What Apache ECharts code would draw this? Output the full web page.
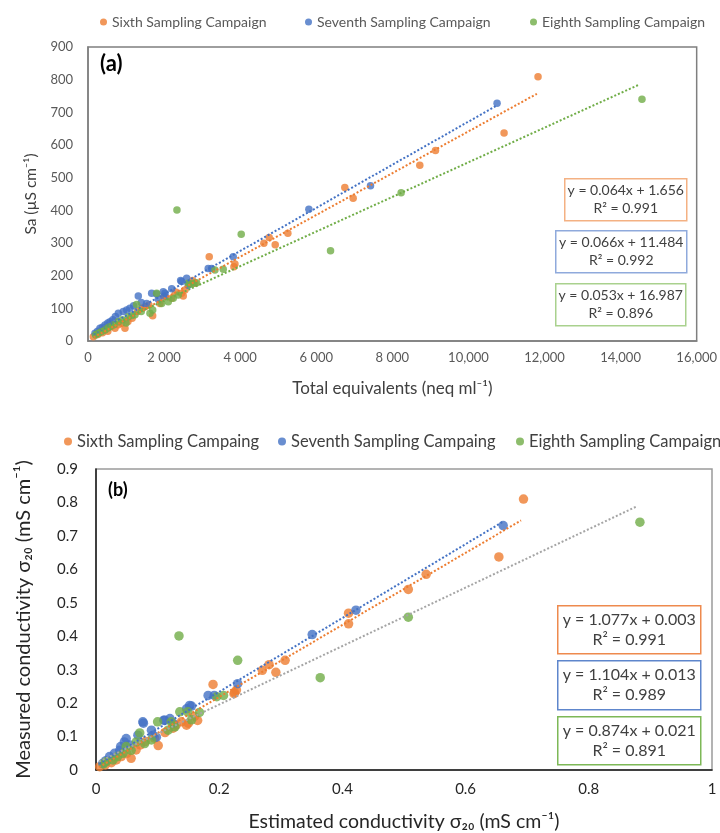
<!DOCTYPE html>
<html>
<head>
<meta charset="utf-8">
<script src="https://cdn.jsdelivr.net/npm/echarts@6/dist/echarts.min.js"></script>
<style>
  html, body { margin: 0; padding: 0; background: #fff; }
  #main { width: 720px; height: 833px; }
</style>
</head>
<body>
<div id="main"></div>
<script>
// ---- chart (a): Sa vs total equivalents ----
const namesA = ['Sixth Sampling Campaign', 'Seventh Sampling Campaign', 'Eighth Sampling Campaign'];
const sixthA = [
  [140, 13], [260, 20], [380, 25], [450, 35], [520, 30], [620, 45], [709, 39], [800, 50], [884, 54],
  [972, 39], [1050, 60], [1160, 70], [1300, 90], [1420, 100], [1500, 105], [1600, 110], [1700, 77],
  [1891, 115], [2000, 135], [2198, 131], [2300, 150], [2461, 146], [2504, 138], [2548, 156],
  [2750, 185], [2811, 177], [3187, 258], [3835, 227], [3862, 236], [4623, 299], [4763, 317],
  [4921, 295], [5254, 330], [6751, 470], [6970, 437], [8722, 538], [9134, 583], [10937, 637], [11830, 809]
];
const seventhA = [
  [184, 24], [250, 30], [315, 39], [380, 42], [447, 49], [520, 55], [578, 59], [650, 65], [720, 75],
  [797, 85], [928, 90], [1016, 95], [1100, 100], [1200, 108], [1322, 138], [1400, 118], [1541, 115],
  [1673, 146], [1805, 144], [1850, 128], [1978, 151], [2023, 146], [2023, 138], [2200, 160],
  [2435, 185], [2461, 182], [2593, 192], [2636, 171], [3160, 222], [3249, 222], [3817, 258],
  [5806, 403], [7426, 475], [10753, 728]
];
const eighthA = [
  [200, 18], [272, 24], [350, 28], [447, 34], [520, 40], [578, 44], [680, 50], [797, 59], [900, 65],
  [1000, 55], [1059, 74], [1150, 78], [1235, 80], [1278, 112], [1400, 90], [1629, 85], [1700, 95],
  [1805, 146], [1935, 115], [2110, 120], [2241, 131], [2338, 401], [2373, 141], [2636, 177],
  [2680, 174], [2767, 177], [2855, 178], [3336, 217], [3555, 220], [4028, 327], [6375, 276],
  [8231, 454], [14562, 740]
];
const slopeA = [0.064, 0.066, 0.053];
const interceptA = [1.656, 11.484, 16.987];
const trendRangeA = [[150, 11800], [150, 10750], [150, 14500]];
const r2A = ['0.991', '0.992', '0.896'];
const xTickLabelsA = ['0', '2 000', '4 000', '6 000', '8 000', '10,000', '12,000', '14,000', '16,000'];

// ---- chart (b): measured vs estimated conductivity ----
const namesB = ['Sixth Sampling Campaing', 'Seventh Sampling Campaing', 'Eighth Sampling Campaign'];
const sixthB = [
  [0.006, 0.010], [0.015, 0.015], [0.025, 0.022], [0.033, 0.030], [0.041, 0.040], [0.050, 0.050],
  [0.057, 0.035], [0.065, 0.060], [0.072, 0.075], [0.080, 0.085], [0.095, 0.095], [0.101, 0.073],
  [0.112, 0.112], [0.125, 0.125], [0.130, 0.134], [0.1385, 0.144], [0.147, 0.134], [0.150, 0.140],
  [0.160, 0.160], [0.165, 0.148], [0.190, 0.256], [0.224, 0.228], [0.225, 0.231], [0.228, 0.239],
  [0.270, 0.298], [0.281, 0.315], [0.292, 0.292], [0.307, 0.328], [0.410, 0.469], [0.410, 0.437],
  [0.507, 0.540], [0.536, 0.585], [0.654, 0.637], [0.694, 0.810]
];
const seventhB = [
  [0.011, 0.020], [0.016, 0.028], [0.022, 0.040], [0.030, 0.050], [0.0385, 0.059], [0.040, 0.070],
  [0.046, 0.084], [0.049, 0.094], [0.055, 0.075], [0.068, 0.104], [0.076, 0.144], [0.077, 0.140],
  [0.090, 0.119], [0.0925, 0.104], [0.098, 0.098], [0.110, 0.149], [0.1115, 0.149], [0.120, 0.154],
  [0.125, 0.140], [0.147, 0.183], [0.152, 0.193], [0.155, 0.191], [0.182, 0.223], [0.192, 0.223],
  [0.230, 0.258], [0.351, 0.405], [0.422, 0.478], [0.661, 0.731]
];
const eighthB = [
  [0.012, 0.018], [0.0167, 0.025], [0.0276, 0.030], [0.035, 0.040], [0.044, 0.050], [0.049, 0.070],
  [0.057, 0.059], [0.0655, 0.084], [0.071, 0.111], [0.079, 0.079], [0.090, 0.090], [0.100, 0.144],
  [0.117, 0.119], [0.122, 0.144], [0.128, 0.129], [0.1347, 0.401], [0.136, 0.174], [0.149, 0.174],
  [0.155, 0.150], [0.168, 0.172], [0.196, 0.219], [0.207, 0.223], [0.230, 0.328], [0.364, 0.276],
  [0.507, 0.457], [0.883, 0.741]
];
const slopeB = [1.077, 1.104, 0.874];
const interceptB = [0.003, 0.013, 0.021];
const trendRangeB = [[0.005, 0.69], [0.005, 0.661], [0.005, 0.879]];
const r2B = ['0.991', '0.989', '0.891'];
const xTickLabelsB = ['0', '0.2', '0.4', '0.6', '0.8', '1'];

const colors = ['#ED7D31', '#4472C4', '#70AD47'];
const trendColorsB = ['#ED7D31', '#4472C4', '#A5A5A5'];
const font = 'Lato, "Noto Sans", sans-serif';

function trendLine(slope, intercept, range) {
  return range.map((x) => [x, slope * x + intercept]);
}

function fmt(n) {
  return n.toFixed(3);
}

const chart = echarts.init(document.getElementById('main'));

const series = [];
[sixthA, seventhA, eighthA].forEach((d, i) => {
  series.push({
    name: namesA[i], type: 'scatter', xAxisIndex: 0, yAxisIndex: 0,
    symbolSize: 7.5, itemStyle: { color: colors[i] }, data: d, z: 3,
  });
});
[0, 1, 2].forEach((i) => {
  series.push({
    name: 'trendA' + i, type: 'line', xAxisIndex: 0, yAxisIndex: 0, symbol: 'none',
    lineStyle: { color: colors[i], width: 2, type: [2, 2] }, z: 4,
    data: trendLine(slopeA[i], interceptA[i], trendRangeA[i]),
  });
});
[sixthB, seventhB, eighthB].forEach((d, i) => {
  series.push({
    name: namesB[i], type: 'scatter', xAxisIndex: 1, yAxisIndex: 1,
    symbolSize: 9.5, itemStyle: { color: colors[i] }, data: d, z: 3,
  });
});
[0, 1, 2].forEach((i) => {
  series.push({
    name: 'trendB' + i, type: 'line', xAxisIndex: 1, yAxisIndex: 1, symbol: 'none',
    lineStyle: { color: trendColorsB[i], width: 2, type: [2, 2] }, z: 4,
    data: trendLine(slopeB[i], interceptB[i], trendRangeB[i]),
  });
});

// equation boxes
const boxA = [
  { x: 564, y: 178, w: 122, h: 42, border: '#F4B183' },
  { x: 555, y: 230, w: 131, h: 42, border: '#8FAADC' },
  { x: 555, y: 283, w: 130, h: 42, border: '#A9D18E' },
];
const boxB = [
  { x: 557, y: 605, w: 143, h: 48, border: '#EE8A4E' },
  { x: 557, y: 660, w: 143, h: 49, border: '#5E86CC' },
  { x: 557, y: 716, w: 143, h: 48, border: '#7DB857' },
];
function eqBox(b, text, size) {
  return {
    type: 'group', left: b.x, top: b.y,
    children: [
      { type: 'rect', shape: { x: 0, y: 0, width: b.w, height: b.h },
        style: { fill: '#fff', stroke: b.border, lineWidth: 1.5 } },
      { type: 'text', x: b.w / 2, y: b.h / 2,
        style: { text: text, fill: '#404040', font: size + 'px ' + font,
          align: 'center', verticalAlign: 'middle', lineHeight: size + 4 } },
    ],
  };
}
const graphics = [];
boxA.forEach((b, i) => {
  graphics.push(eqBox(b, 'y = ' + fmt(slopeA[i]) + 'x + ' + fmt(interceptA[i]) + '\nR² = ' + r2A[i], 14));
});
boxB.forEach((b, i) => {
  graphics.push(eqBox(b, 'y = ' + fmt(slopeB[i]) + 'x + ' + fmt(interceptB[i]) + '\nR² = ' + r2B[i], 16));
});
graphics.push({ type: 'text', left: 100, top: 53,
  style: { text: '(a)', font: 'bold 22px ' + font, fill: '#000' } });
graphics.push({ type: 'text', left: 108, top: 481,
  style: { text: '(b)', font: 'bold 18px ' + font, fill: '#000' } });

// one legend per item so each sits where the reference has it
const legendLeftA = [95, 300, 525];
const legendLeftB = [59, 273, 511];
const legends = [];
namesA.forEach((n, i) => {
  legends.push({
    data: [n], top: 10, left: legendLeftA[i], itemWidth: 7, itemHeight: 7, itemGap: 0,
    icon: 'circle', textStyle: { fontSize: 14, color: '#595959' },
  });
});
namesB.forEach((n, i) => {
  legends.push({
    data: [n], top: 428, left: legendLeftB[i], itemWidth: 8, itemHeight: 8, itemGap: 0,
    icon: 'circle', textStyle: { fontSize: 16.5, color: '#404040' },
  });
});

const option = {
  backgroundColor: '#fff',
  animation: false,
  textStyle: { fontFamily: font },
  legend: legends,
  grid: [
    { left: 88, top: 47, width: 609, height: 294, show: true, borderColor: '#7F7F7F', borderWidth: 1.5 },
    { left: 96, top: 469, width: 616, height: 303, show: true, borderColor: '#9A9A9A', borderWidth: 1.5 },
  ],
  xAxis: [
    {
      gridIndex: 0, type: 'value', min: 0, max: 16000, interval: 2000,
      axisLine: { lineStyle: { color: '#7F7F7F', width: 1.5 } }, axisTick: { show: false }, splitLine: { show: false },
      axisLabel: { color: '#595959', fontSize: 13, margin: 10,
        formatter: (v) => xTickLabelsA[Math.round(v / 2000)] },
      name: 'Total equivalents (neq ml⁻¹)', nameLocation: 'middle', nameGap: 39,
      nameTextStyle: { fontSize: 17, color: '#404040' },
    },
    {
      gridIndex: 1, type: 'value', min: 0, max: 1, interval: 0.2,
      axisLine: { lineStyle: { color: '#1a1a1a', width: 1.5 } }, axisTick: { show: false }, splitLine: { show: false },
      axisLabel: { color: '#262626', fontSize: 15, margin: 12,
        formatter: (v) => xTickLabelsB[Math.round(v / 0.2)] },
      name: 'Estimated conductivity σ₂₀ (mS cm⁻¹)', nameLocation: 'middle', nameGap: 42,
      nameTextStyle: { fontSize: 19.5, color: '#262626' },
    },
  ],
  yAxis: [
    {
      gridIndex: 0, type: 'value', min: 0, max: 900, interval: 100,
      axisLine: { lineStyle: { color: '#7F7F7F', width: 1.5 } }, axisTick: { show: false }, splitLine: { show: false },
      axisLabel: { color: '#595959', fontSize: 13, margin: 15 },
      name: 'Sa (µS cm⁻¹)', nameLocation: 'middle', nameGap: 49,
      nameTextStyle: { fontSize: 15.5, color: '#404040' },
    },
    {
      gridIndex: 1, type: 'value', min: 0, max: 0.9, interval: 0.1,
      axisLine: { lineStyle: { color: '#1a1a1a', width: 1.5 } }, axisTick: { show: false }, splitLine: { show: false },
      axisLabel: { color: '#262626', fontSize: 15, margin: 18,
        formatter: (v) => (Math.round(v * 10) / 10).toString() },
      name: 'Measured conductivity σ₂₀ (mS cm⁻¹)', nameLocation: 'middle', nameGap: 62,
      nameTextStyle: { fontSize: 20, color: '#262626' },
    },
  ],
  graphic: graphics,
  series: series,
};

chart.setOption(option);
window.addEventListener('resize', () => { chart.resize(); });
</script>
</body>
</html>
